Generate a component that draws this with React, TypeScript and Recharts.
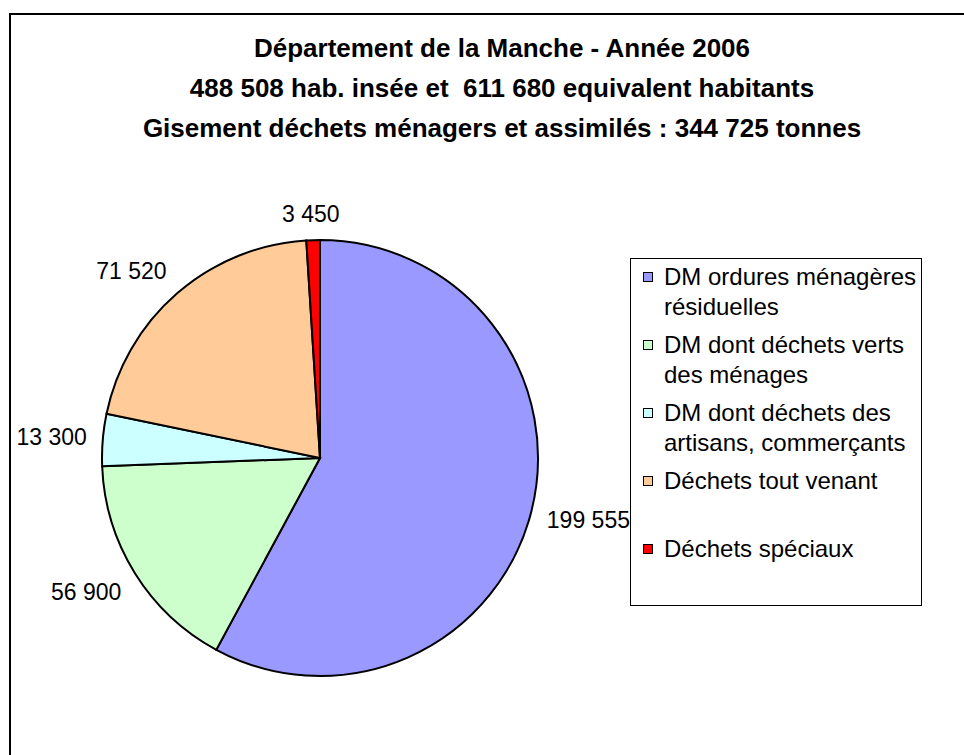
import { Cell, Legend, Pie, PieChart } from "recharts";

const titleLines = [
  "Département de la Manche - Année 2006",
  "488 508 hab. insée et  611 680 equivalent habitants",
  "Gisement déchets ménagers et assimilés : 344 725 tonnes",
];

const categories = [
  "DM ordures ménagères résiduelles",
  "DM dont déchets verts des ménages",
  "DM dont déchets des artisans, commerçants",
  "Déchets tout venant",
  "Déchets spéciaux",
];
const tonnes = [199555, 56900, 13300, 71520, 3450];
const colors = ["#9999FF", "#CCFFCC", "#CCFFFF", "#FFCC99", "#FF0000"];

const FONT = "'Liberation Sans', Arial, sans-serif";
const LABEL_SIZE = 23;
const LEGEND_SIZE = 24;

const data = categories.map((name, i) => ({ name, value: tonnes[i] }));

const fmt = (v: number) => String(v).replace(/\B(?=(\d{3})+(?!\d))/g, " ");
const clamp = (v: number) => Math.max(-1, Math.min(1, v));

function renderLabel(p: any) {
  const rad = Math.PI / 180;
  const ux = Math.cos(-p.midAngle * rad);
  const uy = Math.sin(-p.midAngle * rad);
  const text = fmt(p.value);
  // rough text box so the label sits just outside the rim, excel-style
  const w = text.split("").reduce((s, c) => s + (c === " " ? 0.278 : 0.556), 0) * LABEL_SIZE;
  const h = 20;
  const r = p.outerRadius + 16;
  const x = p.cx + r * ux + (clamp(ux * 2) * w) / 2;
  const y = p.cy + r * uy + (clamp(uy * 2) * h) / 2;
  return (
    <text
      x={x}
      y={y}
      textAnchor="middle"
      dominantBaseline="central"
      fill="#000"
      fontFamily={FONT}
      fontSize={LABEL_SIZE}
    >
      {text}
    </text>
  );
}

function LegendBox() {
  return (
    <div
      style={{
        width: 292,
        height: 348,
        boxSizing: "border-box",
        border: "1px solid #000",
        background: "#fff",
        paddingTop: 3,
        fontFamily: FONT,
        fontSize: LEGEND_SIZE,
        lineHeight: "30px",
        color: "#000",
      }}
    >
      {data.map((d, i) => (
        <div key={d.name} style={{ position: "relative", height: 60, marginBottom: 8, paddingLeft: 33, width: 257 }}>
          <span
            style={{
              position: "absolute",
              left: 12,
              top: 10,
              width: 10,
              height: 10,
              boxSizing: "border-box",
              border: "1px solid #000",
              background: colors[i],
            }}
          />
          {d.name}
        </div>
      ))}
    </div>
  );
}

export default function App() {
  return (
    <div
      style={{
        position: "fixed",
        left: 9,
        top: 13,
        width: 990,
        height: 760,
        border: "2px solid #000",
        background: "#fff",
        fontFamily: FONT,
      }}
    >
      <div
        style={{
          position: "absolute",
          left: 0,
          top: 13,
          width: 982,
          textAlign: "center",
          fontWeight: "bold",
          fontSize: 26,
          lineHeight: "40px",
          whiteSpace: "pre",
          color: "#000",
        }}
      >
        {titleLines.map((t) => (
          <div key={t}>{t}</div>
        ))}
      </div>
      <PieChart width={984} height={740} margin={{ top: 0, right: 0, bottom: 0, left: 0 }}>
        <Pie
          data={data}
          dataKey="value"
          nameKey="name"
          cx={309}
          cy={443}
          outerRadius={218}
          startAngle={90}
          endAngle={-270}
          stroke="#000"
          strokeWidth={2}
          label={renderLabel}
          labelLine={false}
          isAnimationActive={false}
        >
          {data.map((d, i) => (
            <Cell key={d.name} fill={colors[i]} />
          ))}
        </Pie>
        <Legend
          layout="vertical"
          align="right"
          verticalAlign="top"
          content={<LegendBox />}
          wrapperStyle={{ position: "absolute", left: 619, top: 243, width: 292, height: 348 }}
        />
      </PieChart>
    </div>
  );
}
